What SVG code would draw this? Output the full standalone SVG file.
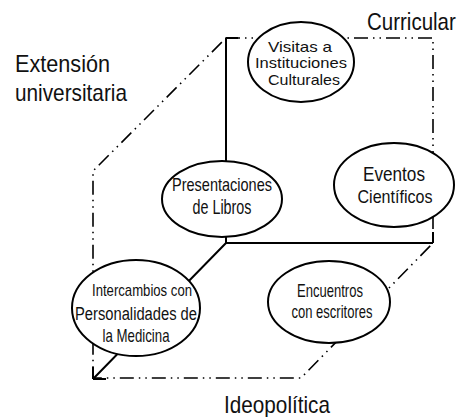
<svg xmlns="http://www.w3.org/2000/svg" width="461" height="417" viewBox="0 0 461 417">
<style>
.dash{fill:none;stroke:#000;stroke-width:1.6;stroke-dasharray:14 5 1.5 5 1.5 5}
.solid{fill:none;stroke:#000;stroke-width:2}
.node ellipse{fill:#fff;stroke:#000;stroke-width:2}
.n{font-family:"Liberation Sans Narrow","Liberation Sans",Arial,sans-serif;fill:#111;text-anchor:middle}
.w{font-family:"Liberation Sans",Arial,sans-serif;fill:#111;text-anchor:middle}
.lbl{font-family:"Liberation Sans Narrow","Liberation Sans",Arial,sans-serif;fill:#111;font-size:24px}
</style>
<rect width="461" height="417" fill="#fff"/>
<g id="connectors">
<path class="dash" d="M226,38 L433,38 L433,243 L301,378 L93,378 L93,171 Z"/>
<path class="solid" d="M226,38 L226,243 L433,243 M226,243 L93,379 M226,38 L238,38 M433,243 L433,232 M93,379 L93,367 M93,379 L106,379"/>
</g>
<g id="labels">
<text class="lbl" style="font-size:20.5px" x="0" y="0" transform="translate(367,30) scale(1,1.15)">Curricular</text>
<text class="lbl" x="15" y="72" textLength="95" lengthAdjust="spacingAndGlyphs">Extensión</text>
<text class="lbl" x="15" y="101" textLength="112" lengthAdjust="spacingAndGlyphs">universitaria</text>
<text class="lbl" x="224" y="413" textLength="106" lengthAdjust="spacingAndGlyphs">Ideopolítica</text>
</g>
<g id="visitas" class="node">
<ellipse cx="301" cy="62" rx="53" ry="40"/>
<text class="w" font-size="15" x="300" y="52" textLength="64" lengthAdjust="spacingAndGlyphs">Visitas a</text>
<text class="w" font-size="14" x="301" y="68" textLength="92" lengthAdjust="spacingAndGlyphs">Instituciones</text>
<text class="w" font-size="15" x="304" y="85" textLength="72" lengthAdjust="spacingAndGlyphs">Culturales</text>
</g>
<g id="presentaciones" class="node">
<ellipse cx="222" cy="199" rx="60" ry="38"/>
<text class="n" font-size="19" x="222" y="191" textLength="100" lengthAdjust="spacingAndGlyphs">Presentaciones</text>
<text class="n" font-size="20" x="222" y="214" textLength="59" lengthAdjust="spacingAndGlyphs">de Libros</text>
</g>
<g id="eventos" class="node">
<ellipse cx="394" cy="185" rx="60" ry="42"/>
<text class="n" font-size="21" x="394" y="181" textLength="62" lengthAdjust="spacingAndGlyphs">Eventos</text>
<text class="n" font-size="19" x="395" y="203" textLength="75" lengthAdjust="spacingAndGlyphs">Científicos</text>
</g>
<g id="intercambios" class="node">
<ellipse cx="136" cy="308" rx="64" ry="48"/>
<text class="n" font-size="17" x="142" y="296" textLength="100" lengthAdjust="spacingAndGlyphs">Intercambios con</text>
<text class="n" font-size="18" x="136" y="320" textLength="122" lengthAdjust="spacingAndGlyphs">Personalidades de</text>
<text class="n" font-size="19" x="136" y="342" textLength="67" lengthAdjust="spacingAndGlyphs">la Medicina</text>
</g>
<g id="encuentros" class="node">
<ellipse cx="329" cy="302" rx="61" ry="41"/>
<text class="n" font-size="19" x="330" y="297" textLength="66" lengthAdjust="spacingAndGlyphs">Encuentros</text>
<text class="n" font-size="18" x="332" y="318" textLength="81" lengthAdjust="spacingAndGlyphs">con escritores</text>
</g>
</svg>
